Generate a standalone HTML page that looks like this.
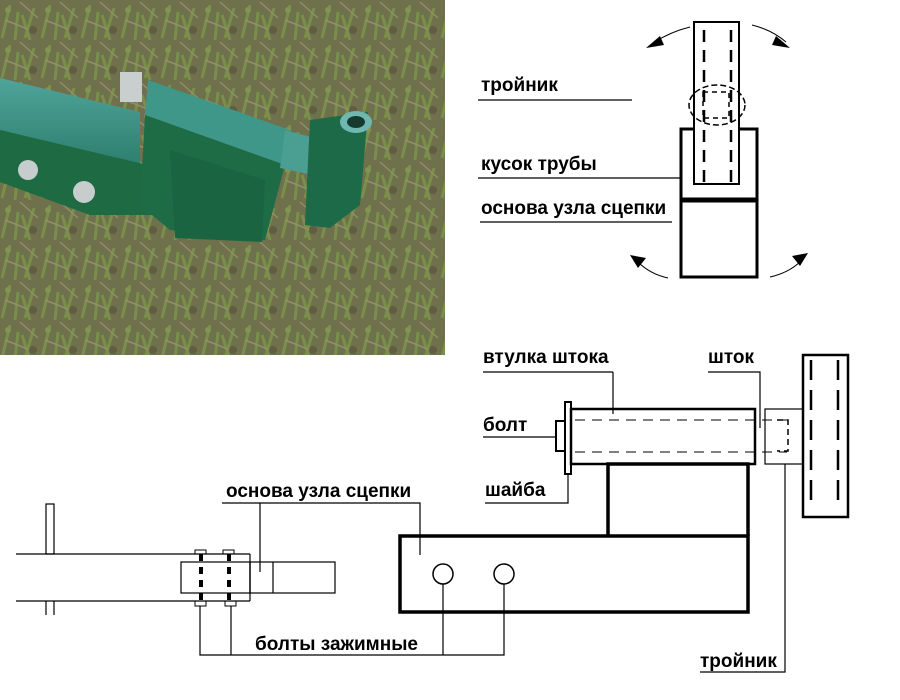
<!DOCTYPE html>
<html><head><meta charset="utf-8"><style>
html,body{margin:0;padding:0;background:#fff;}
svg{display:block;}
text{font-family:"Liberation Sans","DejaVu Sans",sans-serif;font-weight:bold;font-size:19px;fill:#000;}
</style></head><body>
<svg width="900" height="700" viewBox="0 0 900 700" xmlns="http://www.w3.org/2000/svg">
<defs>
<pattern id="grass" width="40" height="40" patternUnits="userSpaceOnUse">
<rect width="40" height="40" fill="#6f6a4e"/>
<path d="M2 38 L10 5 M15 40 L18 12 M25 38 L34 8 M30 40 L22 15" stroke="#7f9a4a" stroke-width="3"/>
<path d="M5 20 L30 30 M20 2 L38 18" stroke="#a59a7c" stroke-width="1.5"/>
<circle cx="33" cy="30" r="4" fill="#5a4e40"/>
<circle cx="8" cy="10" r="3" fill="#8aa455"/>
</pattern>
<linearGradient id="tubeTop" x1="0" y1="0" x2="0" y2="1"><stop offset="0" stop-color="#4fa49a"/><stop offset="1" stop-color="#2d7f6e"/></linearGradient>
</defs>
<rect x="0" y="0" width="445" height="355" fill="url(#grass)"/>
<rect x="0" y="0" width="445" height="355" fill="#6f7a4a" opacity="0.35"/>
<polygon points="0,78 140,112 140,165 0,130" fill="url(#tubeTop)"/>
<polygon points="0,130 140,165 165,170 165,205 0,180" fill="#1f6d45"/>
<polygon points="0,130 160,168 160,215 90,215 0,182" fill="#1d6a43"/>
<polygon points="148,80 290,130 285,165 145,115" fill="#3f978a"/>
<polygon points="145,115 285,165 265,240 170,230 140,205" fill="#1e6c46"/>
<polygon points="170,150 265,180 262,242 175,238" fill="#1a6441"/>
<polygon points="285,130 340,145 335,180 280,168" fill="#4a9e92"/>
<polygon points="310,120 368,112 360,205 330,228 305,225" fill="#1d6a48"/>
<ellipse cx="356" cy="122" rx="16" ry="11" fill="#6fb7b0"/>
<ellipse cx="356" cy="122" rx="9" ry="6" fill="#173a2e"/>
<rect x="120" y="72" width="22" height="30" fill="#c9cfcf"/>
<circle cx="28" cy="170" r="10" fill="#c7cccc"/>
<circle cx="84" cy="192" r="11" fill="#c7cccc"/>

<g fill="none" stroke="#000">
<rect x="694" y="22" width="45" height="162" stroke-width="2"/>
<line x1="704" y1="30" x2="704" y2="184" stroke-width="2.5" stroke-dasharray="12,8"/>
<line x1="731" y1="30" x2="731" y2="184" stroke-width="2.5" stroke-dasharray="12,8"/>
<ellipse cx="717" cy="105" rx="28" ry="20" stroke-width="1.5" stroke-dasharray="6,3"/>
<rect x="703" y="92" width="26" height="26" stroke-width="1.5" stroke-dasharray="5,4"/>
<polyline points="694,129 681,129 681,277 757,277 757,129 739,129" stroke-width="3"/>
<line x1="681" y1="200" x2="757" y2="200" stroke-width="5"/>
<line x1="478" y1="100" x2="632" y2="100" stroke-width="1.2"/>
<line x1="478" y1="178" x2="681" y2="178" stroke-width="1.2"/>
<line x1="480" y1="222" x2="672" y2="222" stroke-width="1.2"/>
<path d="M690 27 Q670 32 655 42" stroke-width="1"/>
<path d="M752 25 Q772 30 786 42" stroke-width="1"/>
<path d="M668 278 Q650 274 638 262" stroke-width="1"/>
<path d="M770 277 Q788 273 800 262" stroke-width="1"/>

<line x1="483" y1="372" x2="613" y2="372" stroke-width="1.2"/>
<line x1="613" y1="372" x2="613" y2="414" stroke-width="1.2"/>
<rect x="571" y="409" width="184" height="55" stroke-width="2.5"/>
<line x1="575" y1="420" x2="787" y2="420" stroke-width="1" stroke-dasharray="10,7"/>
<line x1="575" y1="452" x2="787" y2="452" stroke-width="1" stroke-dasharray="10,7"/>
<rect x="565" y="402" width="6" height="72" stroke-width="2"/>
<rect x="556" y="421" width="9" height="30" stroke-width="2"/>
<line x1="483" y1="437" x2="556" y2="437" stroke-width="1.2"/>
<polyline points="485,503 568,503 568,474" stroke-width="1.2"/>
<polyline points="708,372 760,372 760,428" stroke-width="1.2"/>
<rect x="765" y="409" width="38" height="55" stroke-width="1.2"/>
<polyline points="777,420 788,420 788,451 777,451" stroke-width="1.5" stroke-dasharray="6,4"/>
<rect x="803" y="355" width="45" height="162" stroke-width="2.5"/>
<line x1="811" y1="360" x2="811" y2="508" stroke-width="2.5" stroke-dasharray="20,10"/>
<line x1="838" y1="360" x2="838" y2="508" stroke-width="2.5" stroke-dasharray="20,10"/>
<polyline points="608,536 608,464 748,464 748,536" stroke-width="3.5"/>
<rect x="400" y="536" width="348" height="76" stroke-width="3.5"/>
<circle cx="443" cy="574" r="10" stroke-width="1.5"/>
<circle cx="504" cy="574" r="10" stroke-width="1.5"/>
<polyline points="443,584 443,655" stroke-width="1.2"/>
<polyline points="504,584 504,655 200,655 200,606" stroke-width="1.2"/>
<line x1="231" y1="606" x2="231" y2="655" stroke-width="1.2"/>
<polyline points="700,672 785,672 785,464" stroke-width="1.2"/>
<polyline points="222,503 420,503 420,555" stroke-width="1.2"/>
<line x1="260" y1="503" x2="260" y2="572" stroke-width="1.2"/>

<line x1="16" y1="554" x2="250" y2="554" stroke-width="1.2"/>
<line x1="16" y1="601" x2="250" y2="601" stroke-width="1.2"/>
<rect x="46" y="504" width="8" height="50" stroke-width="1.2"/>
<line x1="46" y1="601" x2="46" y2="615" stroke-width="1.2"/>
<line x1="54" y1="601" x2="54" y2="615" stroke-width="1.2"/>
<rect x="181" y="562" width="69" height="31" stroke-width="1.2"/>
<line x1="250" y1="554" x2="250" y2="601" stroke-width="1.2"/>
<rect x="250" y="562" width="85" height="31" stroke-width="1.2"/>
<line x1="273" y1="562" x2="273" y2="593" stroke-width="1.2"/>
<rect x="195" y="550" width="11" height="4" stroke-width="1"/>
<rect x="223" y="550" width="11" height="4" stroke-width="1"/>
<rect x="195" y="601" width="11" height="5" stroke-width="1"/>
<rect x="225" y="601" width="11" height="5" stroke-width="1"/>
<line x1="201" y1="554" x2="201" y2="601" stroke-width="4" stroke-dasharray="7,6"/>
<line x1="229" y1="554" x2="229" y2="601" stroke-width="4" stroke-dasharray="7,6"/>
</g>
<g fill="#000">
<polygon points="646,48 660,36 664,45"/>
<polygon points="790,48 776,36 772,45"/>
<polygon points="630,255 646,258 638,268"/>
<polygon points="808,253 792,256 800,266"/>
</g>
<text x="481" y="91">тройник</text>
<text x="481" y="170">кусок трубы</text>
<text x="481" y="214">основа узла сцепки</text>
<text x="483" y="363">втулка штока</text>
<text x="708" y="363">шток</text>
<text x="483" y="431">болт</text>
<text x="485" y="496">шайба</text>
<text x="700" y="667">тройник</text>
<text x="226" y="497">основа узла сцепки</text>
<text x="255" y="650">болты зажимные</text>
</svg>
</body></html>
